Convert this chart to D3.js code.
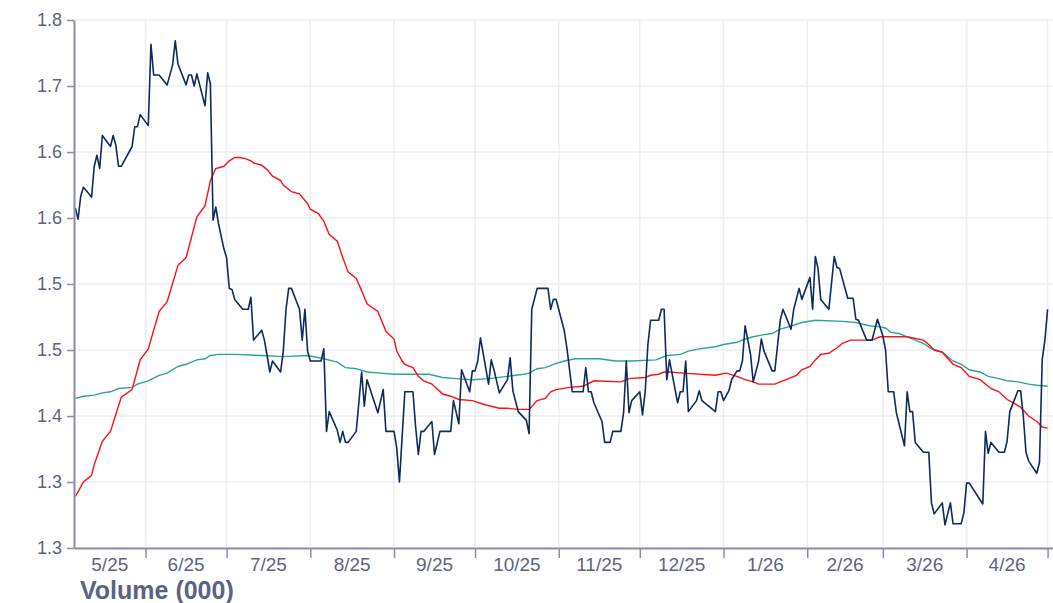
<!DOCTYPE html>
<html><head><meta charset="utf-8">
<script src="https://cdn.jsdelivr.net/npm/d3@7"></script>
<style>body{margin:0;background:#fff}svg{display:block}</style>
</head><body><svg id="c" width="1053" height="603"></svg>
<script>
// ---- data ----
const price = [
["2025-05-06",1.579],["2025-05-07",1.569],["2025-05-08",1.590],["2025-05-09",1.598],["2025-05-12",1.589],
["2025-05-13",1.617],["2025-05-14",1.627],["2025-05-15",1.615],["2025-05-16",1.645],["2025-05-19",1.635],
["2025-05-20",1.645],["2025-05-21",1.636],["2025-05-22",1.617],["2025-05-23",1.617],["2025-05-27",1.635],
["2025-05-28",1.653],["2025-05-29",1.653],["2025-05-30",1.664],["2025-06-02",1.654],["2025-06-03",1.728],
["2025-06-04",1.700],["2025-06-06",1.700],["2025-06-09",1.691],["2025-06-11",1.709],["2025-06-12",1.731],
["2025-06-13",1.710],["2025-06-16",1.691],["2025-06-17",1.700],["2025-06-18",1.700],["2025-06-19",1.690],
["2025-06-20",1.701],["2025-06-23",1.672],["2025-06-24",1.702],["2025-06-25",1.692],["2025-06-26",1.568],
["2025-06-27",1.580],["2025-06-28",1.565],["2025-06-30",1.542],["2025-07-01",1.534],["2025-07-02",1.506],
["2025-07-03",1.505],["2025-07-04",1.496],["2025-07-07",1.487],["2025-07-09",1.487],["2025-07-10",1.498],
["2025-07-11",1.459],["2025-07-14",1.468],["2025-07-15",1.459],["2025-07-16",1.445],["2025-07-17",1.430],
["2025-07-18",1.440],["2025-07-21",1.430],["2025-07-22",1.449],["2025-07-23",1.487],["2025-07-24",1.506],
["2025-07-25",1.506],["2025-07-28",1.487],["2025-07-29",1.459],["2025-07-30",1.487],["2025-07-31",1.449],
["2025-08-01",1.440],["2025-08-05",1.440],["2025-08-06",1.451],["2025-08-07",1.376],["2025-08-08",1.394],
["2025-08-11",1.377],["2025-08-12",1.366],["2025-08-13",1.376],["2025-08-14",1.366],["2025-08-15",1.366],
["2025-08-18",1.376],["2025-08-20",1.430],["2025-08-21",1.399],["2025-08-22",1.423],["2025-08-26",1.393],
["2025-08-28",1.414],["2025-08-29",1.376],["2025-09-01",1.376],["2025-09-02",1.361],["2025-09-03",1.330],
["2025-09-05",1.412],["2025-09-08",1.412],["2025-09-09",1.380],["2025-09-10",1.355],["2025-09-11",1.376],
["2025-09-12",1.376],["2025-09-15",1.385],["2025-09-16",1.355],["2025-09-18",1.376],["2025-09-22",1.376],
["2025-09-23",1.404],["2025-09-25",1.383],["2025-09-26",1.432],["2025-09-29",1.412],["2025-09-30",1.431],
["2025-10-01",1.431],["2025-10-02",1.440],["2025-10-03",1.461],["2025-10-06",1.419],["2025-10-07",1.441],
["2025-10-08",1.432],["2025-10-10",1.411],["2025-10-13",1.423],["2025-10-14",1.443],["2025-10-15",1.413],
["2025-10-17",1.394],["2025-10-20",1.386],["2025-10-21",1.374],["2025-10-22",1.487],["2025-10-24",1.506],
["2025-10-28",1.506],["2025-10-29",1.487],["2025-10-30",1.496],["2025-10-31",1.496],["2025-11-03",1.468],
["2025-11-04",1.452],["2025-11-05",1.432],["2025-11-06",1.412],["2025-11-10",1.412],["2025-11-11",1.434],
["2025-11-12",1.412],["2025-11-13",1.412],["2025-11-14",1.402],["2025-11-17",1.385],["2025-11-18",1.366],
["2025-11-20",1.366],["2025-11-21",1.376],["2025-11-24",1.376],["2025-11-25",1.393],["2025-11-26",1.440],
["2025-11-27",1.393],["2025-11-28",1.404],["2025-12-01",1.412],["2025-12-02",1.391],["2025-12-03",1.412],
["2025-12-04",1.455],["2025-12-05",1.477],["2025-12-08",1.477],["2025-12-09",1.487],["2025-12-10",1.487],
["2025-12-11",1.423],["2025-12-12",1.441],["2025-12-15",1.402],["2025-12-16",1.412],["2025-12-17",1.412],
["2025-12-18",1.440],["2025-12-19",1.394],["2025-12-22",1.404],["2025-12-23",1.413],["2025-12-24",1.404],
["2025-12-29",1.394],["2025-12-30",1.412],["2025-12-31",1.412],["2026-01-01",1.404],["2026-01-03",1.413],
["2026-01-04",1.423],["2026-01-06",1.431],["2026-01-07",1.431],["2026-01-08",1.440],["2026-01-09",1.472],
["2026-01-11",1.446],["2026-01-12",1.421],["2026-01-14",1.440],["2026-01-15",1.460],["2026-01-16",1.449],
["2026-01-19",1.431],["2026-01-20",1.431],["2026-01-22",1.477],["2026-01-23",1.487],["2026-01-26",1.469],
["2026-01-27",1.487],["2026-01-29",1.506],["2026-01-30",1.496],["2026-02-02",1.516],["2026-02-03",1.487],
["2026-02-04",1.535],["2026-02-05",1.524],["2026-02-06",1.496],["2026-02-09",1.487],["2026-02-11",1.535],
["2026-02-12",1.525],["2026-02-13",1.524],["2026-02-16",1.497],["2026-02-18",1.497],["2026-02-19",1.478],
["2026-02-20",1.477],["2026-02-23",1.459],["2026-02-25",1.459],["2026-02-27",1.478],["2026-03-01",1.463],
["2026-03-02",1.450],["2026-03-03",1.412],["2026-03-05",1.412],["2026-03-06",1.393],["2026-03-09",1.363],
["2026-03-10",1.412],["2026-03-11",1.394],["2026-03-12",1.394],["2026-03-13",1.366],["2026-03-16",1.357],
["2026-03-18",1.357],["2026-03-19",1.311],["2026-03-20",1.301],["2026-03-23",1.311],["2026-03-24",1.291],
["2026-03-26",1.311],["2026-03-27",1.292],["2026-03-30",1.292],["2026-03-31",1.302],["2026-04-01",1.329],
["2026-04-02",1.329],["2026-04-07",1.310],["2026-04-08",1.376],["2026-04-09",1.356],["2026-04-10",1.366],
["2026-04-13",1.357],["2026-04-15",1.357],["2026-04-16",1.367],["2026-04-17",1.394],["2026-04-20",1.413],
["2026-04-21",1.413],["2026-04-22",1.390],["2026-04-23",1.357],["2026-04-24",1.349],["2026-04-27",1.338],
["2026-04-28",1.348],["2026-04-29",1.441],["2026-04-30",1.459],["2026-05-01",1.487]
];
const maShort = [
["2025-05-06",1.317],["2025-05-07",1.321],["2025-05-09",1.330],["2025-05-12",1.336],["2025-05-13",1.346],
["2025-05-16",1.367],["2025-05-19",1.376],["2025-05-23",1.407],["2025-05-27",1.414],["2025-05-30",1.441],
["2025-06-02",1.451],["2025-06-06",1.485],["2025-06-09",1.494],["2025-06-13",1.527],["2025-06-16",1.534],
["2025-06-20",1.571],["2025-06-23",1.581],["2025-06-25",1.604],["2025-06-27",1.615],["2025-06-30",1.617],
["2025-07-02",1.622],["2025-07-04",1.625],["2025-07-06",1.625],["2025-07-08",1.624],["2025-07-10",1.622],
["2025-07-11",1.620],["2025-07-14",1.618],["2025-07-16",1.614],["2025-07-18",1.608],["2025-07-21",1.604],
["2025-07-22",1.600],["2025-07-25",1.594],["2025-07-28",1.592],["2025-07-31",1.583],["2025-08-01",1.578],
["2025-08-04",1.574],["2025-08-06",1.567],["2025-08-08",1.555],["2025-08-11",1.549],["2025-08-13",1.534],
["2025-08-15",1.521],["2025-08-18",1.515],["2025-08-20",1.504],["2025-08-22",1.492],["2025-08-26",1.485],
["2025-08-29",1.467],["2025-09-01",1.460],["2025-09-02",1.449],["2025-09-04",1.440],["2025-09-05",1.437],
["2025-09-08",1.434],["2025-09-10",1.426],["2025-09-12",1.422],["2025-09-15",1.419],["2025-09-19",1.410],
["2025-09-22",1.408],["2025-09-25",1.405],["2025-09-30",1.404],["2025-10-05",1.400],["2025-10-10",1.397],
["2025-10-13",1.397],["2025-10-17",1.396],["2025-10-21",1.396],["2025-10-24",1.404],["2025-10-27",1.406],
["2025-10-29",1.412],["2025-10-31",1.414],["2025-11-05",1.416],["2025-11-10",1.417],["2025-11-14",1.422],
["2025-11-24",1.421],["2025-11-27",1.424],["2025-12-03",1.425],["2025-12-05",1.427],["2025-12-08",1.428],
["2025-12-10",1.430],["2025-12-12",1.430],["2025-12-17",1.429],["2025-12-29",1.427],["2026-01-02",1.429],
["2026-01-06",1.426],["2026-01-09",1.423],["2026-01-12",1.421],["2026-01-14",1.419],["2026-01-20",1.419],
["2026-01-22",1.421],["2026-01-25",1.424],["2026-01-28",1.427],["2026-01-30",1.432],["2026-02-02",1.435],
["2026-02-04",1.441],["2026-02-06",1.446],["2026-02-09",1.447],["2026-02-12",1.452],["2026-02-14",1.456],
["2026-02-17",1.459],["2026-02-22",1.459],["2026-02-25",1.459],["2026-02-28",1.462],["2026-03-04",1.462],
["2026-03-10",1.462],["2026-03-16",1.459],["2026-03-18",1.455],["2026-03-20",1.450],["2026-03-23",1.448],
["2026-03-27",1.437],["2026-03-30",1.434],["2026-04-02",1.426],["2026-04-06",1.423],["2026-04-10",1.415],
["2026-04-13",1.412],["2026-04-16",1.405],["2026-04-19",1.401],["2026-04-21",1.398],["2026-04-24",1.390],
["2026-04-27",1.385],["2026-04-29",1.380],["2026-05-01",1.379]
];
const maLong = [
["2025-05-06",1.406],["2025-05-09",1.408],["2025-05-13",1.409],["2025-05-16",1.411],["2025-05-19",1.412],
["2025-05-22",1.415],["2025-05-27",1.416],["2025-05-29",1.419],["2025-06-02",1.422],["2025-06-06",1.427],
["2025-06-09",1.429],["2025-06-13",1.435],["2025-06-16",1.437],["2025-06-20",1.441],["2025-06-23",1.442],
["2025-06-25",1.445],["2025-06-28",1.446],["2025-07-04",1.446],["2025-07-14",1.445],["2025-07-22",1.444],
["2025-07-31",1.445],["2025-08-06",1.442],["2025-08-11",1.439],["2025-08-14",1.434],["2025-08-18",1.433],
["2025-08-22",1.430],["2025-08-27",1.429],["2025-09-01",1.428],["2025-09-05",1.428],["2025-09-14",1.428],
["2025-09-19",1.425],["2025-09-24",1.424],["2025-09-30",1.423],["2025-10-06",1.424],["2025-10-13",1.426],
["2025-10-19",1.428],["2025-10-21",1.429],["2025-10-24",1.433],["2025-10-27",1.434],["2025-10-30",1.437],
["2025-11-03",1.440],["2025-11-07",1.442],["2025-11-16",1.442],["2025-11-22",1.440],["2025-11-28",1.440],
["2025-12-07",1.441],["2025-12-11",1.445],["2025-12-16",1.446],["2025-12-19",1.449],["2025-12-23",1.451],
["2025-12-29",1.453],["2026-01-01",1.455],["2026-01-06",1.457],["2026-01-09",1.460],["2026-01-12",1.462],
["2026-01-16",1.464],["2026-01-19",1.465],["2026-01-22",1.469],["2026-01-25",1.471],["2026-01-30",1.475],
["2026-02-04",1.477],["2026-02-14",1.476],["2026-02-19",1.475],["2026-02-24",1.472],["2026-02-28",1.471],
["2026-03-02",1.470],["2026-03-04",1.466],["2026-03-07",1.465],["2026-03-10",1.462],["2026-03-13",1.459],
["2026-03-16",1.456],["2026-03-19",1.451],["2026-03-23",1.448],["2026-03-27",1.440],["2026-03-30",1.437],
["2026-04-02",1.432],["2026-04-06",1.430],["2026-04-09",1.426],["2026-04-13",1.424],["2026-04-16",1.422],
["2026-04-20",1.421],["2026-04-24",1.419],["2026-04-27",1.418],["2026-05-01",1.417]
];
const yTickValues = [1.27,1.33,1.39,1.45,1.51,1.57,1.63,1.69,1.75];
const yTickLabels = ["1.3","1.3","1.4","1.5","1.5","1.6","1.6","1.7","1.8"];
const xLabelFormat = "%-m/%y";
const axisTitle = "Volume (000)";

// ---- chart ----
const svg = d3.select("#c");
const parse = d3.timeParse("%Y-%m-%d");
const L = 74, R = 1053, T = 20, B = 548;
const xStart = new Date(2025,4,5,12), xEnd = new Date(2026,4,3);
const x = d3.scaleTime().domain([xStart, xEnd]).range([L, R]);
const y = d3.scaleLinear().domain([1.27, 1.75]).range([B, T]);
const months = d3.timeMonth.range(d3.timeMonth.ceil(xStart), xEnd);
const font = "'Liberation Sans', Arial, sans-serif";
const textCol = "#5d6482", axisCol = "#8a8fa7", gridCol = "#ededf3";

// grid
svg.append("g").selectAll("line").data(yTickValues).join("line")
  .attr("x1", L).attr("x2", R).attr("y1", d => y(d)).attr("y2", d => y(d))
  .attr("stroke", gridCol).attr("stroke-width", 1.5);
svg.append("g").selectAll("line").data(months).join("line")
  .attr("x1", d => x(d)).attr("x2", d => x(d)).attr("y1", T).attr("y2", B)
  .attr("stroke", gridCol).attr("stroke-width", 1.5);

// lines
const line = d3.line().x(d => x(parse(d[0]))).y(d => y(d[1]));
svg.append("path").datum(maLong).attr("d", line).attr("fill","none").attr("stroke","#2aa597").attr("stroke-width",1.4);
svg.append("path").datum(maShort).attr("d", line).attr("fill","none").attr("stroke","#ff1010").attr("stroke-width",1.4);
svg.append("path").datum(price).attr("d", line).attr("fill","none").attr("stroke","#0e2a5e").attr("stroke-width",1.6).attr("stroke-linejoin","round");

// axes
const ya = svg.append("g").attr("transform", `translate(${L},0)`)
  .call(d3.axisLeft(y).tickValues(yTickValues).tickFormat((d,i) => yTickLabels[i]).tickSize(7).tickSizeOuter(0).tickPadding(5));
const xa = svg.append("g").attr("transform", `translate(0,${B})`)
  .call(d3.axisBottom(x).tickValues(months).tickFormat("").tickSize(10).tickSizeOuter(0));
[ya, xa].forEach(g => {
  g.select(".domain").attr("stroke", axisCol).attr("stroke-width", 2);
  g.selectAll(".tick line").attr("stroke", axisCol).attr("stroke-width", 1.5);
  g.selectAll("text").attr("fill", textCol).style("font-family", font).style("font-size", "18px");
});

// month labels centered in each visible month
const fmt = d3.timeFormat(xLabelFormat);
const monthStarts = [d3.timeMonth.floor(xStart), ...months];
svg.append("g").selectAll("text").data(monthStarts).join("text")
  .attr("x", d => (x(d3.max([d, xStart])) + x(d3.min([d3.timeMonth.offset(d,1), xEnd]))) / 2)
  .attr("y", 571).attr("text-anchor","middle")
  .attr("fill", textCol).style("font-family", font).style("font-size","19px")
  .text(d => fmt(d)).filter(d => x(d3.min([d3.timeMonth.offset(d,1), xEnd])) - x(d3.max([d, xStart])) < 40).remove();

svg.append("text").attr("x", 80).attr("y", 598.5).attr("fill", "#5b6384")
  .style("font-family", font).style("font-size","25px").style("font-weight","bold").text(axisTitle);
</script></body></html>
